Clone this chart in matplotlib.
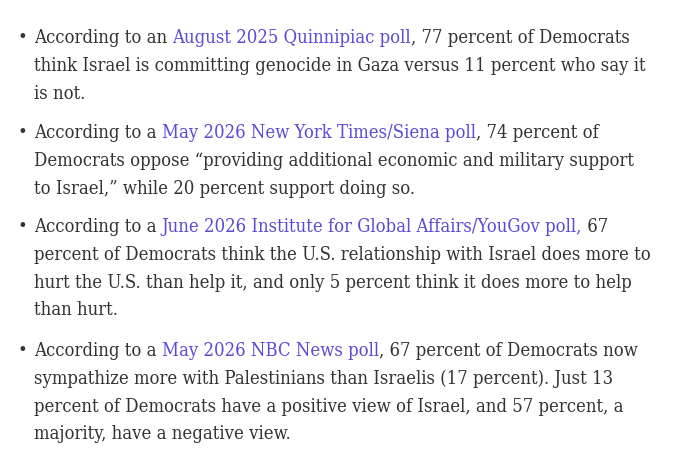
import matplotlib
matplotlib.use("Agg")
import matplotlib.pyplot as plt
from matplotlib import font_manager

# morceaux de texte : (texte, est_un_lien), une liste par ligne
puce1 = [
    [("According to an ", False), ("August 2025 Quinnipiac poll", True), (", 77 percent of Democrats", False)],
    [("think Israel is committing genocide in Gaza versus 11 percent who say it", False)],
    [("is not.", False)],
]
puce2 = [
    [("According to a ", False), ("May 2026 New York Times/Siena poll", True), (", 74 percent of", False)],
    [("Democrats oppose \u201cproviding additional economic and military support", False)],
    [("to Israel,\u201d while 20 percent support doing so.", False)],
]
puce3 = [
    [("According to a ", False), ("June 2026 Institute for Global Affairs/YouGov poll,", True), (" 67", False)],
    [("percent of Democrats think the U.S. relationship with Israel does more to", False)],
    [("hurt the U.S. than help it, and only 5 percent think it does more to help", False)],
    [("than hurt.", False)],
]
puce4 = [
    [("According to a ", False), ("May 2026 NBC News poll", True), (", 67 percent of Democrats now", False)],
    [("sympathize more with Palestinians than Israelis (17 percent). Just 13", False)],
    [("percent of Democrats have a positive view of Israel, and 57 percent, a", False)],
    [("majority, have a negative view.", False)],
]
puces = [puce1, puce2, puce3, puce4]
# ligne de base de la premiere ligne de chaque puce (pixels depuis le haut)
debuts = [43, 138, 232, 356]
interligne = 27.8

FAMILLE = "DejaVu Serif"
NOIR = "#333333"
LIEN = "#5b4bd6"
W, H = 680, 462

# version condensee si elle est installee
police = font_manager.FontProperties(family=FAMILLE, stretch="condensed")
fichier = font_manager.findfont(police, fallback_to_default=False)
if "Condensed" not in fichier:
    police = font_manager.FontProperties(family=FAMILLE)

fig = plt.figure(figsize=(W / 100, H / 100), dpi=100)
fig.patch.set_facecolor("white")
renderer = fig.canvas.get_renderer()

# taille de police choisie pour que la 1ere ligne fasse ~595 px de large
essai = fig.text(0, 0, "".join(m for m, _ in puce1[0]), fontproperties=police, fontsize=10)
largeur = essai.get_window_extent(renderer).width
essai.remove()
taille = 10 * 595 / largeur

x0 = 34
for puce, y0 in zip(puces, debuts):
    fig.text(17 / W, 1 - y0 / H, "\u2022", fontproperties=police, fontsize=taille,
             color=NOIR, va="baseline")
    for i, ligne in enumerate(puce):
        y = 1 - (y0 + i * interligne) / H
        x = x0
        for morceau, lien in ligne:
            t = fig.text(x / W, y, morceau, fontproperties=police, fontsize=taille,
                         color=LIEN if lien else NOIR, va="baseline")
            x += t.get_window_extent(renderer).width

fig.savefig("out.png", dpi=100)
